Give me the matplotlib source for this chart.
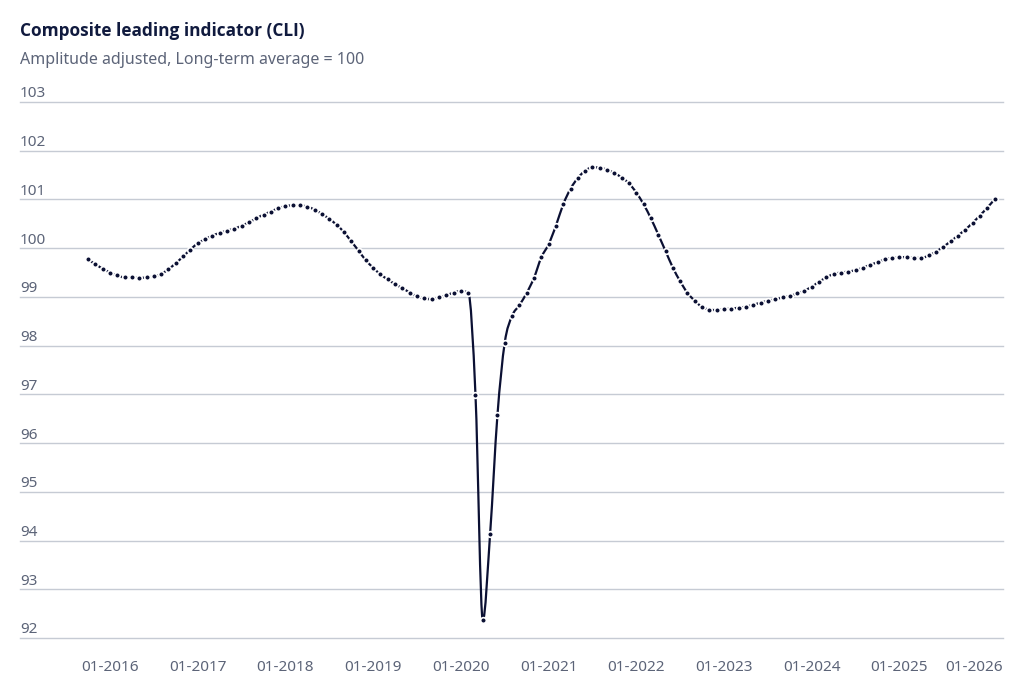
import numpy as np
import pandas as pd
import matplotlib
matplotlib.use('Agg')
import matplotlib.pyplot as plt
from matplotlib.path import Path
from matplotlib.patches import PathPatch
from matplotlib.transforms import ScaledTranslation, blended_transform_factory

# monthly CLI values, Oct 2015 .. Feb 2026
start_month = '2015-10'
cli = [
    99.77, 99.67, 99.58,
    99.50, 99.44, 99.40, 99.40, 99.39, 99.40, 99.42, 99.47, 99.57, 99.69, 99.83, 99.97,
    100.10, 100.18, 100.26, 100.31, 100.36, 100.40, 100.46, 100.53, 100.61, 100.69, 100.75, 100.82,
    100.86, 100.88, 100.88, 100.85, 100.79, 100.70, 100.60, 100.48, 100.33, 100.14, 99.95, 99.75,
    99.60, 99.46, 99.36, 99.26, 99.18, 99.09, 99.01, 98.97, 98.95, 98.99, 99.03, 99.09,
    99.12, 99.09, 96.98, 92.36, 94.14, 96.57, 98.06, 98.61, 98.83, 99.08, 99.39, 99.81,
    100.08, 100.46, 100.90, 101.22, 101.44, 101.59, 101.66, 101.65, 101.61, 101.54, 101.45, 101.33,
    101.14, 100.90, 100.61, 100.28, 99.94, 99.60, 99.32, 99.08, 98.92, 98.79, 98.74, 98.73,
    98.75, 98.76, 98.78, 98.80, 98.84, 98.88, 98.92, 98.95, 98.99, 99.02, 99.07, 99.13,
    99.21, 99.31, 99.40, 99.47, 99.50, 99.52, 99.55, 99.60, 99.66, 99.71, 99.77, 99.80,
    99.81, 99.82, 99.80, 99.80, 99.85, 99.93, 100.03, 100.14, 100.26, 100.38, 100.52, 100.67,
    100.83, 101.00,
]
tick_years = list(range(2016, 2027))
y_ticks = list(range(92, 104))

NAVY = '#0b1033'
GRID = '#c6cbd4'
GREY = '#5c6478'

plt.rcParams['font.family'] = ['Noto Sans', 'DejaVu Sans']


def monotone_path(x, y):
    # same shape as d3 curveMonotoneX: cubic bezier segments through every point
    x = np.asarray(x, float)
    y = np.asarray(y, float)
    h = np.diff(x)
    s = np.diff(y) / h
    n = len(x)
    t = np.zeros(n)
    for i in range(1, n - 1):
        if s[i - 1] * s[i] > 0:
            p = (s[i - 1] * h[i] + s[i] * h[i - 1]) / (h[i - 1] + h[i])
            t[i] = (np.sign(s[i - 1]) + np.sign(s[i])) * min(abs(s[i - 1]), abs(s[i]), 0.5 * abs(p))
    t[0] = (3 * s[0] - t[1]) / 2
    t[-1] = (3 * s[-1] - t[-2]) / 2
    verts = [(x[0], y[0])]
    codes = [Path.MOVETO]
    for i in range(n - 1):
        d = h[i] / 3
        verts += [(x[i] + d, y[i] + d * t[i]), (x[i + 1] - d, y[i + 1] - d * t[i + 1]), (x[i + 1], y[i + 1])]
        codes += [Path.CURVE4] * 3
    return Path(verts, codes)


dates = pd.date_range(start_month, periods=len(cli), freq='MS')
# months since Jan 2016
months = (dates.year - 2016) * 12 + (dates.month - 1)

fig = plt.figure(figsize=(10.24, 6.84), dpi=100)
ax = fig.add_axes([20 / 1024, 1 - 638 / 684, 983 / 1024, 536 / 684])

ax.add_patch(PathPatch(monotone_path(months, cli), fill=False, edgecolor=NAVY,
                       linewidth=1.6, clip_on=False, zorder=3, capstyle='round'))
ax.plot(months, cli, 'o', color=NAVY, markersize=4.1, markeredgecolor='white',
        markeredgewidth=1.2, clip_on=False, zorder=4)

ax.set_xlim(-12.31, 122.16)
ax.set_ylim(92, 103)

for s in ax.spines.values():
    s.set_visible(False)

ax.set_yticks(y_ticks)
ax.yaxis.grid(True, color=GRID, linewidth=1)
ax.set_axisbelow(True)
ax.tick_params(axis='y', length=0, labelleft=False)
for gl in ax.get_ygridlines():
    gl.set_clip_on(False)

trans = blended_transform_factory(ax.transAxes, ax.transData) + ScaledTranslation(0, 3.3 / 72, fig.dpi_scale_trans)
for v in y_ticks:
    ax.text(0, v, str(v), transform=trans, ha='left', va='baseline', fontsize=11, color=GREY)

xt = [(y - 2016) * 12 for y in tick_years]
ax.set_xticks(xt)
ax.set_xticklabels([f'01-{y}' for y in tick_years], fontsize=11, color=GREY)
ax.tick_params(axis='x', length=0, pad=16)
last = ax.get_xticklabels()[-1]
last.set_horizontalalignment('right')
last.set_transform(last.get_transform() + ScaledTranslation(16 / 100, 0, fig.dpi_scale_trans))

fig.text(20 / 1024, 1 - 36 / 684, 'Composite leading indicator (CLI)', fontsize=12.4,
         fontweight='bold', family=['Open Sans', 'Noto Sans'], color='#101a3e',
         ha='left', va='baseline')
fig.text(20 / 1024, 1 - 64 / 684, 'Amplitude adjusted, Long-term average = 100', fontsize=11.5,
         color=GREY, ha='left', va='baseline')

fig.savefig('out.png', dpi=100)
